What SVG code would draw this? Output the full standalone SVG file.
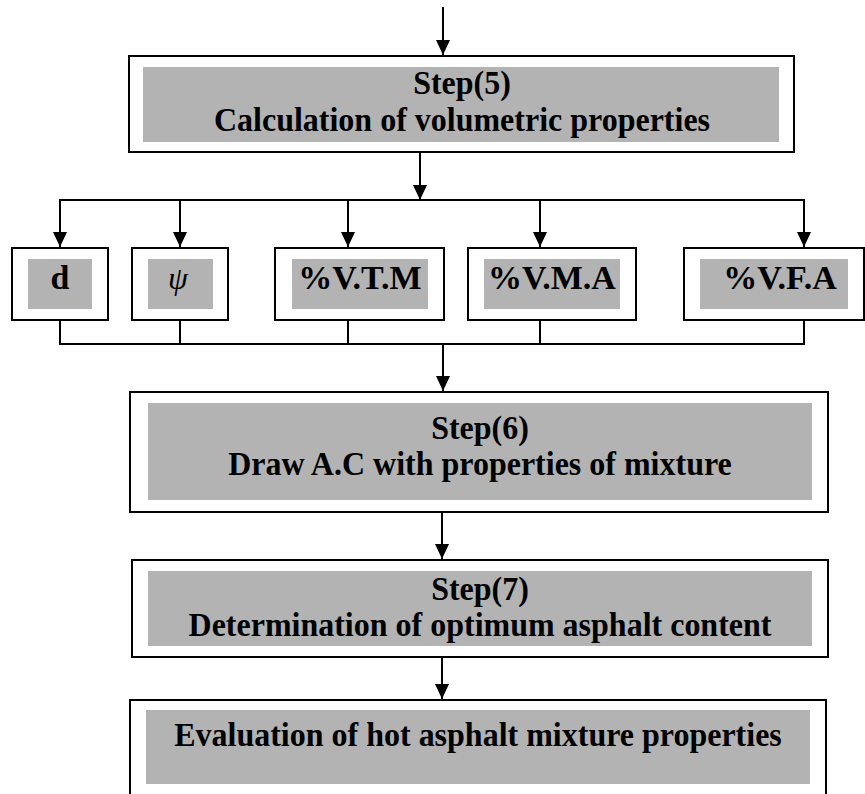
<svg xmlns="http://www.w3.org/2000/svg" width="865" height="794" viewBox="0 0 865 794">
<style>
.box{fill:#fff;stroke:#000;stroke-width:2}
.fill{fill:#b3b3b3}
.t{font-family:"Liberation Serif","Times New Roman",serif;font-weight:bold;font-size:32px;fill:#000;text-anchor:middle}
.s{font-size:34px}
.ti{font-style:italic;font-weight:normal}
.c{fill:none;stroke:#000;stroke-width:2}
</style>
<defs>
<marker id="ah" markerWidth="15" markerHeight="14" refX="15" refY="7" orient="auto" markerUnits="userSpaceOnUse" viewBox="0 0 15 14">
<path d="M0,0 L15,7 L0,14 Z" fill="#000"/>
</marker>
</defs>
<rect width="865" height="794" fill="#fff"/>
<g id="connectors">
<line class="c" x1="443" y1="7" x2="443" y2="55" marker-end="url(#ah)"/>
<line class="c" x1="420" y1="152" x2="420" y2="200" marker-end="url(#ah)"/>
<line class="c" x1="60" y1="200" x2="804" y2="200"/>
<line class="c" x1="60" y1="199" x2="60" y2="247" marker-end="url(#ah)"/>
<line class="c" x1="180" y1="200" x2="180" y2="247" marker-end="url(#ah)"/>
<line class="c" x1="348" y1="200" x2="348" y2="247" marker-end="url(#ah)"/>
<line class="c" x1="540" y1="200" x2="540" y2="247" marker-end="url(#ah)"/>
<line class="c" x1="804" y1="199" x2="804" y2="247" marker-end="url(#ah)"/>
<polyline class="c" points="60,320 60,344 804,344 804,320"/>
<line class="c" x1="180" y1="320" x2="180" y2="344"/>
<line class="c" x1="348" y1="320" x2="348" y2="344"/>
<line class="c" x1="540" y1="320" x2="540" y2="344"/>
<line class="c" x1="443" y1="344" x2="443" y2="391" marker-end="url(#ah)"/>
<line class="c" x1="442" y1="512" x2="442" y2="559" marker-end="url(#ah)"/>
<line class="c" x1="442" y1="657" x2="442" y2="699" marker-end="url(#ah)"/>
</g>
<g id="step5">
<rect class="box" x="129" y="56" width="665" height="96"/>
<rect class="fill" x="143" y="67" width="636" height="75"/>
<text class="t" transform="translate(462,94) scale(1,1.08)">Step(5)</text>
<text class="t" transform="translate(462,131) scale(1,1.08)">Calculation of volumetric properties</text>
</g>
<g id="d">
<rect class="box" x="12" y="248" width="96" height="72"/>
<rect class="fill" x="28" y="259" width="64" height="50"/>
<text class="t s" x="60" y="289">d</text>
</g>
<g id="psi">
<rect class="box" x="132" y="248" width="96" height="72"/>
<rect class="fill" x="148" y="259" width="65" height="50"/>
<text class="t ti" x="178" y="289">ψ</text>
</g>
<g id="vtm">
<rect class="box" x="275" y="248" width="169" height="72"/>
<rect class="fill" x="292" y="259" width="136" height="50"/>
<text class="t s" x="360" y="289">%V.T.M</text>
</g>
<g id="vma">
<rect class="box" x="468" y="248" width="168" height="72"/>
<rect class="fill" x="484" y="259" width="136" height="50"/>
<text class="t s" x="552" y="289">%V.M.A</text>
</g>
<g id="vfa">
<rect class="box" x="684" y="248" width="180" height="72"/>
<rect class="fill" x="700" y="259" width="148" height="50"/>
<text class="t s" x="780" y="289">%V.F.A</text>
</g>
<g id="step6">
<rect class="box" x="130" y="392" width="698" height="120"/>
<rect class="fill" x="148" y="403" width="664" height="97"/>
<text class="t" transform="translate(480,439) scale(1,1.08)">Step(6)</text>
<text class="t" transform="translate(480,475) scale(1,1.08)">Draw A.C with properties of mixture</text>
</g>
<g id="step7">
<rect class="box" x="132" y="560" width="696" height="97"/>
<rect class="fill" x="148" y="571" width="664" height="75"/>
<text class="t" transform="translate(480,600) scale(1,1.08)">Step(7)</text>
<text class="t" transform="translate(480,636) scale(1,1.08)">Determination of optimum asphalt content</text>
</g>
<g id="evaluation">
<rect class="box" x="130" y="700" width="696" height="110"/>
<rect class="fill" x="146" y="710" width="664" height="74"/>
<text class="t" transform="translate(478,746) scale(1,1.08)">Evaluation of hot asphalt mixture properties</text>
</g>
</svg>
